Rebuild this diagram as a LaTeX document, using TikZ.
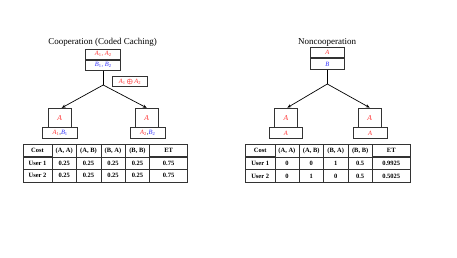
\documentclass[tikz,border=0pt]{standalone}
\usepackage{fontspec}
\setmainfont{Liberation Serif}
\usepackage{amsmath,amssymb}
\usepackage{tikz}
\usetikzlibrary{arrows.meta,positioning,calc,matrix}
\definecolor{cred}{HTML}{FF3030}
\definecolor{cblu}{HTML}{3030FF}
\definecolor{edge}{HTML}{333333}
\tikzset{
  >={Stealth[length=1.4mm,width=1.1mm]},
  box/.style={draw=edge,line width=0.9pt,inner sep=0pt,font=\fontsize{6.5}{7}\selectfont,align=center,fill=white},
  rbox/.style={box,minimum height=10pt},
  ubox/.style={box,minimum width=23pt,minimum height=19.4pt,font=\fontsize{7.5}{8}\selectfont},
  ttl/.style={font=\fontsize{9}{10}\selectfont},
  arr/.style={->,draw=black,line width=0.7pt},
  tbl/.style={matrix of nodes,inner sep=0pt,column sep=-0.6pt,row sep=-0.6pt,
    nodes={draw=edge,line width=0.6pt,minimum height=12.6pt,inner sep=0pt,font=\fontsize{6.5}{7}\selectfont\bfseries},
    column 1/.style={nodes={minimum width=29.4pt}},
    column 2/.style={nodes={minimum width=24pt}},
    column 3/.style={nodes={minimum width=24.6pt}},
    column 4/.style={nodes={minimum width=24.4pt}},
    column 5/.style={nodes={minimum width=24.5pt}},
    column 6/.style={nodes={minimum width=37.8pt}}},
}
\newcommand{\ra}[1]{\textcolor{cred}{\textit{#1}}}
\newcommand{\bl}[1]{\textcolor{cblu}{\textit{#1}}}
\newcommand{\sub}[1]{\textsubscript{\upshape#1}}
\begin{document}
\begin{tikzpicture}[x=1pt,y=-1pt]
\useasboundingbox (0,0) rectangle (457,257);
% cooperation
\node[ttl] (cttl) at (102.5,42) {Cooperation (Coded Caching)};
\node[rbox,minimum width=35pt] (ctop) at (103.2,54.3) {\ra{A\sub{1}, A\sub{2}}};
\node[rbox,minimum width=35pt,below=0pt of ctop] (cbot) {\bl{B\sub{1}, B\sub{2}}};
\node[rbox,minimum width=34.6pt] (ccode) at (130,81.7) {\ra{A\sub{1}\,$\boldsymbol{\oplus}$\,A\sub{2}}};
\coordinate (cj) at (103.2,85);
\node[ubox] (cu1) at (59.7,118) {\ra{A}};
\node[rbox,minimum width=35pt,minimum height=10.6pt] (cc1) at (60.2,133) {\ra{A\sub{1}},\bl{B\sub{1}}};
\node[ubox,minimum width=23.3pt] (cu2) at (146.7,118) {\ra{A}};
\node[rbox,minimum width=35.7pt,minimum height=10.6pt] (cc2) at (147.8,133) {\ra{A\sub{2}},\bl{B\sub{2}}};
\draw[line width=0.7pt] (cbot.south) -- (cj);
\draw[arr] (cj) -- ([xshift=2pt]cu1.north);
\draw[arr] (cj) -- (cu2.north);
% noncooperation
\node[ttl] (nttl) at (327.2,42) {Noncooperation};
\node[rbox,minimum width=34pt,minimum height=10.3pt] (ntop) at (327.3,52.7) {\ra{A}};
\node[rbox,minimum width=34pt,minimum height=10.3pt,below=0pt of ntop] (nbot) {\bl{B}};
\coordinate (nj) at (327.3,84);
\node[ubox] (nu1) at (285.8,117.8) {\ra{A}};
\node[rbox,minimum width=33.7pt,minimum height=10.6pt] (nc1) at (285.8,133) {\ra{A}};
\node[ubox,minimum width=22.7pt] (nu2) at (369.7,117.8) {\ra{A}};
\node[rbox,minimum width=34pt,minimum height=10.6pt] (nc2) at (370,133) {\ra{A}};
\draw[line width=0.7pt] (nbot.south) -- (nj);
\draw[arr] (nj) -- ([xshift=1.5pt]nu1.north);
\draw[arr] (nj) -- (nu2.north);
% tables
\matrix[tbl,anchor=north west] (ctab) at (22.3,143.3) {
Cost & (A, A) & (A, B) & (B, A) & (B, B) & ET \\
User 1 & 0.25 & 0.25 & 0.25 & 0.25 & 0.75 \\
User 2 & 0.25 & 0.25 & 0.25 & 0.25 & 0.75 \\
};
\matrix[tbl,anchor=north west] (ntab) at (245,143.3) {
Cost & (A, A) & (A, B) & (B, A) & (B, B) & ET \\
User 1 & 0 & 0 & 1 & 0.5 & 0.9925 \\
User 2 & 0 & 1 & 0 & 0.5 & 0.5025 \\
};
\end{tikzpicture}
\end{document}
